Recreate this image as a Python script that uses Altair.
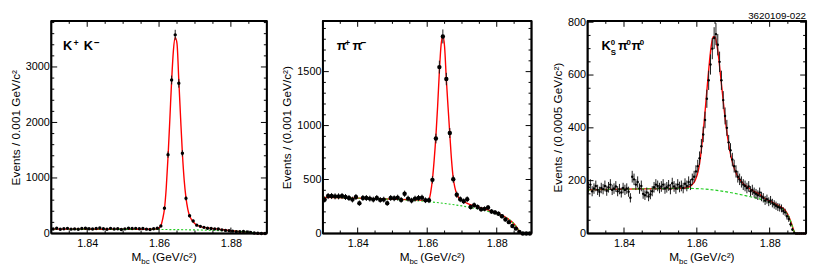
import altair as alt
import pandas as pd

FONT = "Liberation Sans"
X_DOMAIN = [1.83, 1.89]
X_MAJOR = [1.84, 1.86, 1.88]
X_MINOR = [1.835, 1.845, 1.85, 1.855, 1.865, 1.87, 1.875, 1.885]

# ---------------- K+ K- (bins of 0.001) ----------------
KK_BIN = 0.001
KK_COUNTS = [80, 95, 75, 85, 92, 78, 82, 76, 88, 95,
             85, 80, 90, 98, 84, 75, 92, 80, 86, 72,
             82, 95, 88, 92, 85, 90, 78, 72, 85, 95,
             135, 456, 1420, 2765, 3579, 2706, 1445, 633, 320, 225,
             150, 128, 110, 95, 88, 82, 80, 65, 55, 48,
             42, 32, 30, 35, 28, 20, 8, 4, 0, 0]
KK_FIT_X = [1.830, 1.840, 1.850, 1.858, 1.8595, 1.8605, 1.861, 1.8615, 1.862, 1.8625,
            1.863, 1.8635, 1.864, 1.8645, 1.865, 1.8655, 1.866, 1.8665, 1.867, 1.8675,
            1.868, 1.8685, 1.869, 1.870, 1.871, 1.872, 1.874, 1.876, 1.878, 1.880,
            1.882, 1.884, 1.885, 1.886, 1.8866, 1.887, 1.890]
KK_FIT_Y = [78, 77, 76, 76, 80, 140, 260, 440, 820, 1380,
            2050, 2750, 3300, 3530, 3420, 2760, 2080, 1440, 960, 640,
            440, 320, 255, 175, 135, 115, 95, 82, 66, 48,
            35, 25, 18, 8, 2, 0, 0]
KK_BKG_X = [1.830, 1.845, 1.860, 1.866, 1.870, 1.875, 1.880, 1.883, 1.885, 1.886, 1.8866, 1.887]
KK_BKG_Y = [76, 75, 72, 68, 64, 56, 44, 34, 24, 15, 6, 0]
KK_Y_MAJOR = [0, 1000, 2000, 3000]
KK_Y_MINOR = [200, 400, 600, 800, 1200, 1400, 1600, 1800, 2200, 2400, 2600, 2800,
              3200, 3400, 3600, 3800]

# ---------------- pi+ pi- (bins of 0.001) ----------------
PP_BIN = 0.001
PP_COUNTS = [314, 347, 347, 344, 344, 347, 338, 329, 314, 338,
             281, 329, 329, 323, 314, 329, 311, 314, 281, 329,
             326, 332, 311, 368, 323, 305, 323, 329, 332, 308,
             308, 497, 880, 1542, 1826, 1431, 931, 503, 359, 317,
             299, 317, 245, 263, 245, 225, 228, 240, 204, 195,
             183, 159, 129, 105, 69, 45, 15, 0, 0, 0]
PP_FIT_X = [1.830, 1.840, 1.850, 1.856, 1.860, 1.8605, 1.861, 1.8615, 1.862, 1.8625,
            1.863, 1.8635, 1.864, 1.8645, 1.865, 1.8655, 1.866, 1.8665, 1.867, 1.8675,
            1.868, 1.8685, 1.869, 1.870, 1.871, 1.872, 1.874, 1.876, 1.878, 1.880,
            1.882, 1.884, 1.885, 1.886, 1.8865, 1.8868, 1.890]
PP_FIT_Y = [335, 328, 318, 311, 306, 312, 380, 500, 680, 900,
            1180, 1500, 1750, 1830, 1730, 1430, 1170, 920, 680, 510,
            420, 365, 335, 305, 287, 272, 252, 232, 212, 188,
            160, 118, 88, 45, 18, 0, 0]
PP_BKG_X = [1.830, 1.840, 1.850, 1.855, 1.860, 1.865, 1.870, 1.875, 1.880, 1.882,
            1.884, 1.885, 1.886, 1.8865, 1.8868]
PP_BKG_Y = [335, 327, 316, 308, 296, 278, 255, 224, 182, 158, 118, 88, 45, 18, 0]
PP_Y_MAJOR = [0, 500, 1000, 1500]
PP_Y_MINOR = [100, 200, 300, 400, 600, 700, 800, 900, 1100, 1200, 1300, 1400,
              1600, 1700, 1800, 1900]

# ---------------- K0S pi0 pi0 (bins of 0.0005) ----------------
KS_BIN = 0.0005
KS_COUNTS = [175, 185, 160, 170, 180, 165, 158, 172, 168, 180,
             162, 175, 185, 165, 170, 178, 160, 168, 155, 172,
             165, 170, 158, 135, 215, 205, 185, 195, 170, 180,
             150, 145, 155, 140, 148, 160, 175, 185, 180, 172,
             178, 185, 170, 175, 182, 168, 190, 178, 170, 185,
             176, 180, 172, 188, 180, 195, 185, 205, 215, 235,
             255, 285, 330, 375, 430, 510, 580, 640, 700, 740,
             755, 715, 650, 580, 505, 445, 400, 345, 315, 280,
             255, 235, 215, 205, 195, 185, 180, 172, 178, 160,
             165, 155, 150, 145, 155, 140, 135, 125, 130, 120,
             125, 115, 110, 105, 100, 98, 95, 85, 80, 65,
             55, 35, 15, 3, 0, 0, 0, 0, 0, 0]
KS_FIT_X = [1.830, 1.840, 1.850, 1.856, 1.8575, 1.8585, 1.8595, 1.8605, 1.861, 1.8615,
            1.862, 1.8625, 1.863, 1.8635, 1.864, 1.8645, 1.865, 1.8655, 1.866, 1.8665,
            1.867, 1.8675, 1.868, 1.8685, 1.869, 1.8695, 1.870, 1.871, 1.872, 1.873,
            1.875, 1.877, 1.879, 1.881, 1.883, 1.884, 1.885, 1.886, 1.8866, 1.887, 1.890]
KS_FIT_Y = [165, 168, 170, 171, 175, 182, 200, 245, 290, 350,
            420, 500, 580, 655, 715, 745, 745, 715, 665, 600,
            535, 470, 410, 360, 318, 285, 258, 222, 200, 186,
            165, 150, 130, 116, 101, 92, 72, 38, 12, 0, 0]
KS_BKG_X = [1.830, 1.840, 1.850, 1.856, 1.860, 1.865, 1.870, 1.875, 1.877, 1.879,
            1.881, 1.883, 1.884, 1.885, 1.886, 1.8866, 1.887]
KS_BKG_Y = [165, 168, 170, 171, 170, 164, 153, 138, 132, 122, 112, 98, 88, 70, 37, 12, 0]
KS_Y_MAJOR = [0, 200, 400, 600, 800]
KS_Y_MINOR = [50, 100, 150, 250, 300, 350, 450, 500, 550, 650, 700, 750]

H = 216
ONE = pd.DataFrame({"a": [0]})


def text_layer(txt, x, y, size, weight="normal", align="left", baseline="alphabetic"):
    return alt.Chart(ONE).mark_text(
        text=txt, fontSize=size, fontWeight=weight, font=FONT, align=align,
        baseline=baseline, color="black"
    ).encode(x=alt.value(x), y=alt.value(y))


def panel(counts, bin_w, fit_x, fit_y, bkg_x, bkg_y, ymax, W, y_major, y_minor,
          ytitle, label_parts, pt_size, dash, extra=None):
    xs = alt.Scale(domain=X_DOMAIN, nice=False, zero=False)
    ys = alt.Scale(domain=[0, ymax], nice=False)
    xaxis = alt.Axis(values=X_MAJOR, format=".2f", ticks=False, domain=False, grid=False,
                     labelFontSize=11, labelPadding=4, title="")
    yaxis = alt.Axis(values=y_major, format="d", ticks=False, domain=False, grid=False,
                     labelFontSize=11, labelPadding=2, title=ytitle, titleFontSize=12,
                     titleFontWeight="normal", titlePadding=3)

    centers = [round(X_DOMAIN[0] + bin_w * (i + 0.5), 5) for i in range(len(counts))]
    pts = pd.DataFrame({"m": centers, "n": counts})
    fit = pd.DataFrame({"m": fit_x, "n": fit_y})
    bkg = pd.DataFrame({"m": bkg_x, "n": bkg_y})

    X = alt.X("m:Q", scale=xs, axis=xaxis)
    Y = alt.Y("n:Q", scale=ys, axis=yaxis)

    red = alt.Chart(fit).mark_line(color="#ff0000", strokeWidth=1.4,
                                   interpolate="monotone").encode(x=X, y=Y)
    green = alt.Chart(bkg).mark_line(color="#22cc22", strokeWidth=1.2, strokeDash=dash,
                                     interpolate="monotone").encode(x=X, y=Y)
    base = alt.Chart(pts).transform_calculate(
        lo="max(0, datum.n - sqrt(2.3*datum.n))",
        hi="datum.n + sqrt(2.3*datum.n)")
    err = base.mark_rule(color="#1a1a1a", strokeWidth=1).encode(
        x=X, y=alt.Y("lo:Q", scale=ys, axis=yaxis), y2="hi:Q")
    dots = alt.Chart(pts).mark_circle(color="black", size=pt_size, opacity=1).encode(x=X, y=Y)

    x0, x1 = X_DOMAIN
    dx_per_px = (x1 - x0) / W
    dy_per_px = ymax / H

    seg_x, seg_y, seg_g, seg_o = [], [], [], []

    def add_seg(pts_list, gid):
        for k, (px, py) in enumerate(pts_list):
            seg_x.append(px)
            seg_y.append(py)
            seg_g.append(gid)
            seg_o.append(k)

    gid = 1
    for vals, ln in [(X_MAJOR, 6), (X_MINOR, 3)]:
        d = ln * dy_per_px
        for v in vals:
            add_seg([(v, 0), (v, d)], gid); gid += 1
            add_seg([(v, ymax - d), (v, ymax)], gid); gid += 1
    for vals, ln in [(y_major, 6), (y_minor, 3)]:
        d = ln * dx_per_px
        for v in vals:
            add_seg([(x0, v), (x0 + d, v)], gid); gid += 1
            add_seg([(x1 - d, v), (x1, v)], gid); gid += 1

    ticks_df = pd.DataFrame({"sx": seg_x, "sy": seg_y, "g": seg_g, "o": seg_o})
    ticks = alt.Chart(ticks_df).mark_line(color="black", strokeWidth=1).encode(
        x=alt.X("sx:Q", scale=xs, axis=xaxis), y=alt.Y("sy:Q", scale=ys, axis=yaxis),
        detail="g:N", order="o:Q")

    # frame: four sides as separate rules in data coordinates
    frame_df = pd.DataFrame({
        "ax": [x0, x0, x0, x1], "bx": [x1, x1, x0, x1],
        "ay": [0, ymax, 0, 0], "by": [0, ymax, ymax, ymax]})
    frame = alt.Chart(frame_df).mark_rule(color="#000000", strokeWidth=2).encode(
        x=alt.X("ax:Q", scale=xs, axis=xaxis), x2="bx:Q",
        y=alt.Y("ay:Q", scale=ys, axis=yaxis), y2="by:Q")

    c = W / 2
    xtitle = [
        text_layer("M", c - 28, H + 28, 12),
        text_layer("bc", c - 18, H + 31, 8),
        text_layer("(GeV/c²)", c - 7, H + 28, 12),
    ]
    labels = [text_layer(t, x, y, s, "bold") for (t, x, y, s) in label_parts]
    layers = [red, green, err, dots, ticks, frame] + xtitle + labels
    if extra:
        layers += extra
    return alt.layer(*layers).properties(width=W, height=H)


W1, W2, W3 = 219, 212, 222

p1 = panel(KK_COUNTS, KK_BIN, KK_FIT_X, KK_FIT_Y, KK_BKG_X, KK_BKG_Y, 3830, W1,
           KK_Y_MAJOR, KK_Y_MINOR, "Events / 0.001 GeV/c²",
           [("K", 12, 30, 13), ("+", 22.5, 25, 9), ("K", 33, 30, 13), ("−", 43.5, 25, 10)],
           12, [2, 2])
p2 = panel(PP_COUNTS, PP_BIN, PP_FIT_X, PP_FIT_Y, PP_BKG_X, PP_BKG_Y, 1970, W2,
           PP_Y_MAJOR, PP_Y_MINOR, "Events / (0.001 GeV/c²)",
           [("π", 14, 30, 13), ("+", 22.5, 25, 9), ("π", 30, 30, 13), ("−", 38.5, 25, 10)],
           20, [2, 2])
p3 = panel(KS_COUNTS, KS_BIN, KS_FIT_X, KS_FIT_Y, KS_BKG_X, KS_BKG_Y, 805, W3,
           KS_Y_MAJOR, KS_Y_MINOR, "Events / (0.0005 GeV/c²)",
           [("K", 14, 30, 13), ("0", 23.5, 24, 8), ("S", 23.5, 35, 8), ("π", 31, 30, 13),
            ("0", 39.5, 24, 8), ("π", 44.5, 30, 13), ("0", 53, 24, 8)],
           6, [3, 2],
           extra=[text_layer("3620109-022", W3, -2, 10, align="right")])

chart = alt.hconcat(p1, p2, p3, spacing=57, bounds="flush").properties(
    padding={"left": 0, "top": 0, "right": 0, "bottom": 0},
    background="white"
).configure_view(stroke="black", strokeWidth=1.6).configure_axis(
    labelFont=FONT, titleFont=FONT, labelColor="black", titleColor="black"
)

chart.save("out.html", embed_options={"renderer": "svg", "actions": False})
